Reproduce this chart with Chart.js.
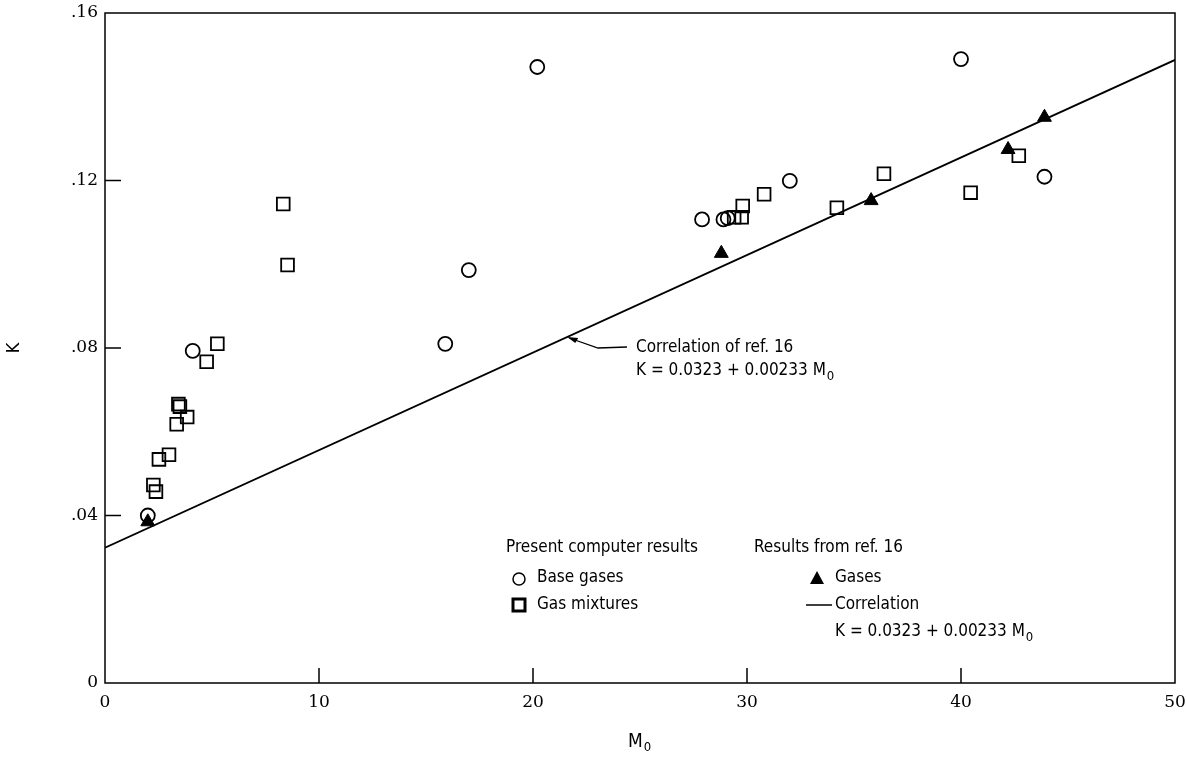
<!DOCTYPE html>
<html>
<head>
<meta charset="utf-8">
<script src="https://cdn.jsdelivr.net/npm/chart.js@4.4.1/dist/chart.umd.min.js"></script>
<style>
  html, body { margin: 0; padding: 0; background: #fff; }
  #wrap { width: 1186px; height: 765px; position: relative; }
</style>
</head>
<body>
<div id="wrap"><canvas id="kChart"></canvas></div>
<script>
// Present computer results - base gases (M0, K)
const baseM = [2.0, 4.1, 15.9, 17.0, 20.2, 27.9, 28.9, 29.1, 32.0, 40.0, 43.9];
const baseK = [0.040, 0.0793, 0.081, 0.0986, 0.1471, 0.1107, 0.1107, 0.111, 0.1199, 0.149, 0.1209];

// Present computer results - gas mixtures
const mixM = [2.26, 2.38, 2.52, 2.99, 3.35, 3.43, 3.5, 3.84, 4.75, 5.25, 8.33, 8.53, 29.4, 29.75, 29.8, 30.8, 34.2, 36.4, 40.45, 42.7];
const mixK = [0.0473, 0.0457, 0.0534, 0.0545, 0.0618, 0.0666, 0.066, 0.0635, 0.0767, 0.081, 0.1144, 0.0998, 0.1112, 0.1112, 0.1139, 0.1167, 0.1135, 0.1216, 0.1171, 0.1259];

// Results from ref. 16 - gases
const gasM = [2.0, 28.8, 35.8, 42.2, 43.9];
const gasK = [0.0385, 0.1026, 0.1152, 0.1274, 0.1351];

// Correlation of ref. 16, K = 0.0323 + 0.00233 M0 (end points)
const corrM = [0, 50];
const corrK = [0.0323, 0.1488];

const xTicks = [0, 10, 20, 30, 40, 50];
const yTickLabels = { 0: "0", 0.04: ".04", 0.08: ".08", 0.12: ".12", 0.16: ".16" };

const pts = (xs, ys) => xs.map((x, i) => ({ x: x, y: ys[i] }));

const TEXT_FONT = '17px "DejaVu Sans Condensed", "Liberation Sans Narrow", "DejaVu Sans", sans-serif';

function textWithSub(ctx, str, sub, x, y) {
  ctx.fillText(str, x, y);
  const w = ctx.measureText(str).width;
  const saved = ctx.font;
  ctx.font = '13px "DejaVu Sans Condensed", "DejaVu Sans", sans-serif';
  ctx.fillText(sub, x + w + 1, y + 6);
  ctx.font = saved;
}

// box, inward ticks and the text blocks
const decorations = {
  id: "decorations",
  afterDraw(chart) {
    const { ctx, chartArea: a, scales } = chart;
    ctx.save();
    ctx.strokeStyle = "#000";
    ctx.lineWidth = 1.5;
    ctx.strokeRect(a.left, a.top, a.right - a.left, a.bottom - a.top);

    ctx.beginPath();
    scales.x.ticks.forEach((t) => {
      if (t.value <= 0 || t.value >= 50) return;
      const px = scales.x.getPixelForValue(t.value);
      ctx.moveTo(px, a.bottom);
      ctx.lineTo(px, a.bottom - 15);
    });
    scales.y.ticks.forEach((t) => {
      if (t.value <= 0 || t.value >= 0.16) return;
      const py = scales.y.getPixelForValue(t.value);
      ctx.moveTo(a.left, py);
      ctx.lineTo(a.left + 16, py);
    });
    ctx.stroke();

    // arrow label for the correlation line
    const ax = scales.x.getPixelForValue(21.6);
    const ay = scales.y.getPixelForValue(0.0323 + 0.00233 * 21.6);
    ctx.lineWidth = 1.3;
    ctx.beginPath();
    ctx.moveTo(627, 347);
    ctx.lineTo(598, 348);
    ctx.lineTo(ax + 2, ay + 1);
    ctx.stroke();
    ctx.beginPath();
    ctx.moveTo(ax, ay);
    ctx.lineTo(ax + 11, ay + 1);
    ctx.lineTo(ax + 8, ay + 6);
    ctx.closePath();
    ctx.fillStyle = "#000";
    ctx.fill();

    ctx.font = TEXT_FONT;
    ctx.fillStyle = "#000";
    ctx.textBaseline = "middle";
    ctx.textAlign = "left";
    ctx.fillText("Correlation of ref. 16", 636, 348);
    textWithSub(ctx, "K = 0.0323 + 0.00233 M", "0", 636, 371);

    // legend block
    ctx.fillText("Present computer results", 506, 548);
    ctx.fillText("Base gases", 537, 578);
    ctx.fillText("Gas mixtures", 537, 605);
    ctx.fillText("Results from ref. 16", 754, 548);
    ctx.fillText("Gases", 835, 578);
    ctx.fillText("Correlation", 835, 605);
    textWithSub(ctx, "K = 0.0323 + 0.00233 M", "0", 835, 632);

    ctx.lineWidth = 1.5;
    ctx.beginPath();
    ctx.arc(519, 579, 6, 0, Math.PI * 2);
    ctx.stroke();
    ctx.lineWidth = 3;
    ctx.strokeRect(513, 599, 12, 12);
    ctx.beginPath();
    ctx.moveTo(817, 571);
    ctx.lineTo(824, 584);
    ctx.lineTo(810, 584);
    ctx.closePath();
    ctx.fill();
    ctx.lineWidth = 1.5;
    ctx.beginPath();
    ctx.moveTo(806, 605);
    ctx.lineTo(832, 605);
    ctx.stroke();

    // x-axis title with subscript
    ctx.font = '19px "DejaVu Sans Condensed", "DejaVu Sans", sans-serif';
    textWithSub(ctx, "M", "0", (a.left + a.right) / 2 - 12, 742);
    ctx.restore();
  },
};

new Chart(document.getElementById("kChart"), {
  type: "scatter",
  data: {
    datasets: [
      {
        label: "Correlation",
        type: "line",
        data: pts(corrM, corrK),
        borderColor: "#000",
        borderWidth: 1.8,
        pointRadius: 0,
        fill: false,
      },
      {
        label: "Base gases",
        data: pts(baseM, baseK),
        pointStyle: "circle",
        pointRadius: 7,
        borderColor: "#000",
        backgroundColor: "rgba(255,255,255,0)",
        borderWidth: 1.8,
      },
      {
        label: "Gas mixtures",
        data: pts(mixM, mixK),
        pointStyle: "rect",
        pointRadius: 9,
        borderColor: "#000",
        backgroundColor: "rgba(255,255,255,0)",
        borderWidth: 1.8,
      },
      {
        label: "Gases",
        data: pts(gasM, gasK),
        pointStyle: "triangle",
        pointRadius: 8,
        borderColor: "#000",
        backgroundColor: "#000",
        borderWidth: 1,
      },
    ],
  },
  options: {
    responsive: true,
    maintainAspectRatio: false,
    animation: false,
    layout: { padding: { top: 13, right: 11, left: 0, bottom: 0 } },
    plugins: {
      legend: { display: false },
      tooltip: { enabled: false },
    },
    scales: {
      x: {
        type: "linear",
        min: 0,
        max: 50,
        afterBuildTicks: (scale) => {
          scale.ticks = xTicks.map((v) => ({ value: v }));
        },
        afterFit: (scale) => {
          scale.height = 82;
          scale.paddingLeft = 0;
          scale.paddingRight = 0;
        },
        grid: { display: false, drawTicks: false },
        border: { display: false },
        ticks: {
          color: "#000",
          font: { family: "'DejaVu Serif', 'Liberation Serif', serif", size: 17 },
          padding: 9,
          maxRotation: 0,
        },
      },
      y: {
        type: "linear",
        min: 0,
        max: 0.16,
        afterBuildTicks: (scale) => {
          scale.ticks = Object.keys(yTickLabels).map((v) => ({ value: Number(v) }));
        },
        afterFit: (scale) => {
          scale.width = 105;
          scale.paddingTop = 0;
          scale.paddingBottom = 0;
        },
        grid: { display: false, drawTicks: false },
        border: { display: false },
        ticks: {
          color: "#000",
          font: { family: "'DejaVu Serif', 'Liberation Serif', serif", size: 17 },
          padding: 7,
          callback: (v) => yTickLabels[Number(v.toFixed(2))] ?? "",
        },
        title: {
          display: true,
          text: "K",
          color: "#000",
          font: { family: "'DejaVu Sans Condensed', 'DejaVu Sans', sans-serif", size: 18 },
        },
      },
    },
  },
  plugins: [decorations],
});
</script>
</body>
</html>
